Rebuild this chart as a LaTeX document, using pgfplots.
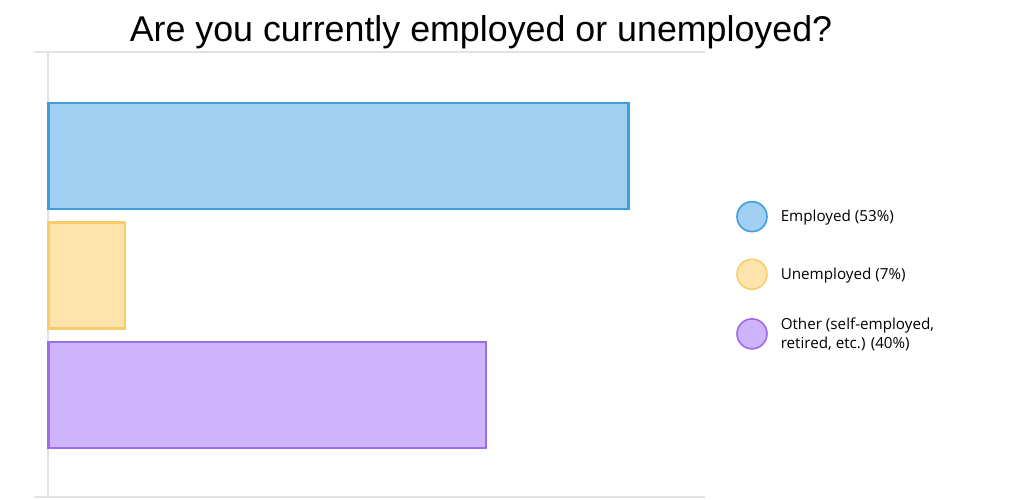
\documentclass[border=0pt]{standalone}
\usepackage{fontspec}
\setmainfont{Open Sans}
\newfontfamily\titlefont{Liberation Sans}
\usepackage{pgfplots}
\pgfplotsset{compat=1.18}
\definecolor{empF}{HTML}{A1D0F3}
\definecolor{empD}{HTML}{3F9FDE}
\definecolor{uneF}{HTML}{FDE4AC}
\definecolor{uneD}{HTML}{F8CC6B}
\definecolor{othF}{HTML}{CDB4FB}
\definecolor{othD}{HTML}{9D6CE9}
\definecolor{frame}{HTML}{E2E2E2}
\begin{document}
\begin{tikzpicture}[x=1pt,y=1pt]
\useasboundingbox (0,0) rectangle (1024,499);
\node[anchor=base, font=\titlefont\fontsize{35.8}{40}\selectfont] at (481,457) {Are you currently employed or unemployed?};
\begin{axis}[
  at={(48.5pt,2pt)}, anchor=south west,
  scale only axis, width=656.5pt, height=445pt,
  xmin=0, xmax=60, ymin=-0.870, ymax=2.854,
  y dir=reverse,
  xbar, bar shift=0pt, bar width=106pt,
  axis line style={draw=none},
  ticks=none,
  clip=false,
  legend style={draw=none, fill=none, inner sep=0pt,
    at={(axis description cs:1.0472,0.666)}, anchor=north west,
    font=\fontsize{15.2}{18.5}\selectfont,
    nodes={align=left},
    row sep=26pt,
    /tikz/every odd column/.append style={column sep=11pt}},
  legend cell align=left,
  legend image code/.code={\draw[#1, line width=1.6pt] (15pt,0pt) circle (15pt);},
]
\draw[frame, line width=1.3pt] (axis description cs:-0.0228,1) -- (axis description cs:1,1);
\draw[frame, line width=1.3pt] (axis description cs:-0.0228,0) -- (axis description cs:1,0);
\draw[frame, line width=1.5pt] (axis description cs:-0.001,0) -- (axis description cs:-0.001,1);
\addplot[fill=empF, draw=empD, line width=2.6pt] coordinates {(53,0)};
\addlegendentry{Employed (53\%)}
\addplot[fill=uneF, draw=uneD, line width=2.6pt] coordinates {(7,1)};
\addlegendentry{Unemployed (7\%)}
\addplot[fill=othF, draw=othD, line width=2.6pt] coordinates {(40,2)};
\addlegendentry{Other (self-employed,\\retired, etc.) (40\%)}
\end{axis}
\end{tikzpicture}
\end{document}
